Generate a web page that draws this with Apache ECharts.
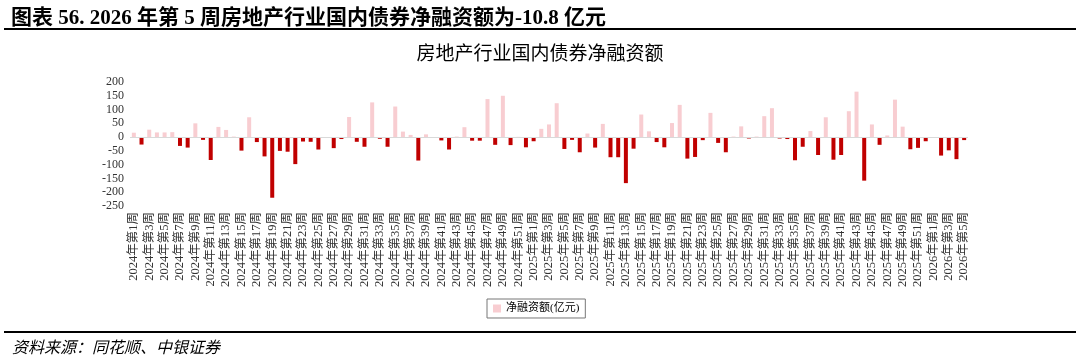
<!DOCTYPE html>
<html><head><meta charset="utf-8">
<script src="https://cdn.jsdelivr.net/npm/echarts@6/dist/echarts.min.js"></script>
<style>html,body{margin:0;padding:0;background:#fff}#c{width:1080px;height:357px}</style>
</head><body><div id="c"></div>
<script>
const years = [2024, 2025, 2026];
const weeksPerYear = [52, 52, 5];
const categories = [];
years.forEach((y, k) => { for (let w = 1; w <= weeksPerYear[k]; w++) categories.push(y + '年第' + w + '周'); });

const netFinancing2024 = [16,-27,27,17,17,18,-32,-38,50,-10,-83,37,26,2,-49,72,-18,-70,-220,-50,-53,-98,-16,-17,-45,-3,-40,-7,73,-17,-35,126,-6,-35,111,20,8,-85,10,-3,-12,-45,2,36,-13,-13,138,-28,150,-29,1,-37];
const netFinancing2025 = [-15,30,46,123,-43,-10,-55,13,-38,48,-73,-73,-167,-42,82,21,-18,-37,51,117,-78,-72,-11,88,-21,-55,2,39,-5,2,76,105,-5,-7,-84,-35,22,-65,72,-82,-65,94,165,-158,46,-28,6,136,38,-44,-39,-15];
const netFinancing2026 = [-3,-67,-48,-80,-10.8];
const values = netFinancing2024.concat(netFinancing2025, netFinancing2026);

const yTicks = { min: -250, max: 200, interval: 50 };
const pink = '#F8CDD1', red = '#C00000';
const serif = '"Liberation Serif","Times New Roman","Noto Sans CJK SC",serif';

const chart = echarts.init(document.getElementById('c'), null, { renderer: 'canvas' });
chart.setOption({
  animation: false,
  backgroundColor: '#fff',
  title: [
    { text: '图表 56. 2026 年第 5 周房地产行业国内债券净融资额为-10.8 亿元', left: 6, top: 3,
      textStyle: { fontFamily: serif, fontSize: 21, fontWeight: 'bold', color: '#000' } },
    { text: '房地产行业国内债券净融资额', left: 'center', top: 41,
      textStyle: { fontFamily: serif, fontSize: 19, fontWeight: 'normal', color: '#000' } },
    { text: '资料来源：同花顺、中银证券', left: 7, top: 336,
      textStyle: { fontFamily: serif, fontSize: 16, fontStyle: 'italic', fontWeight: 'normal', color: '#000' } }
  ],
  graphic: [
    { type: 'line', shape: { x1: 4, y1: 29, x2: 1076, y2: 29 }, style: { stroke: '#000', lineWidth: 2 } },
    { type: 'line', shape: { x1: 4, y1: 332, x2: 1076, y2: 332 }, style: { stroke: '#000', lineWidth: 2 } }
  ],
  legend: {
    data: ['净融资额(亿元)'], left: 487, top: 299,
    icon: 'rect', itemWidth: 8, itemHeight: 8, itemGap: 6,
    borderColor: '#777', borderWidth: 1, padding: [4, 6, 4, 6],
    textStyle: { fontFamily: serif, fontSize: 11, color: '#000' }
  },
  grid: { left: 130, right: 112, top: 82, height: 124 },
  xAxis: {
    type: 'category', data: categories,
    axisLine: { show: false, onZero: false }, axisTick: { show: false },
    axisLabel: { interval: 1, rotate: 90, fontFamily: serif, fontSize: 12.5, color: '#333', margin: 6 }
  },
  yAxis: {
    type: 'value', min: yTicks.min, max: yTicks.max, interval: yTicks.interval,
    splitLine: { show: false }, axisLine: { show: false }, axisTick: { show: false },
    axisLabel: { fontFamily: serif, fontSize: 12, color: '#333', margin: 6 }
  },
  series: [{
    name: '净融资额(亿元)', type: 'bar', barWidth: 4, color: pink,
    data: values.map(v => ({ value: v, itemStyle: { color: v < 0 ? red : pink } })),
    markLine: { silent: true, symbol: 'none', label: { show: false },
      lineStyle: { color: '#d9d9d9', width: 1, type: 'solid' }, data: [{ yAxis: 0 }] }
  }]
});
</script></body></html>
